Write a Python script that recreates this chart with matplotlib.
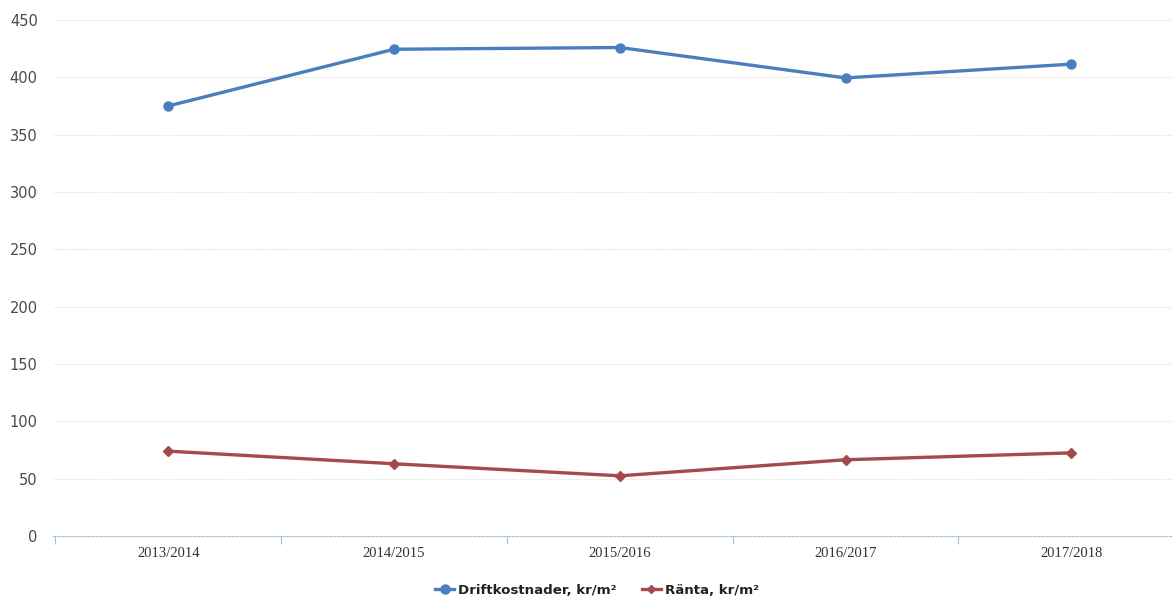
import matplotlib
matplotlib.use("Agg")
import matplotlib.pyplot as plt
from matplotlib.lines import Line2D

categories = ["2013/2014", "2014/2015", "2015/2016", "2016/2017", "2017/2018"]
drift = [375, 424.5, 426, 399.5, 411.5]
ranta = [74, 63, 52.5, 66.5, 72.5]
yticks = [0, 50, 100, 150, 200, 250, 300, 350, 400, 450]

blue = "#4a7ebf"
red = "#a44a4c"

fig = plt.figure(figsize=(11.73, 5.98), dpi=100)
ax = fig.add_axes([53/1173, 62/598, (1173-53)/1173, 516/598])

x = list(range(len(categories)))
ax.plot(x, drift, color=blue, lw=2.4, marker="o", ms=6.5, zorder=3)
ax.plot(x, ranta, color=red, lw=2.4, marker="D", ms=5, zorder=3)

ax.set_ylim(0, 450)
ax.set_xlim(-0.51, 4.45)
ax.set_yticks(yticks)
ax.set_yticklabels([str(v) for v in yticks], fontsize=10.5, color="#4a4a4a")
for v in yticks[1:]:
    ax.axhline(v, color="#d8d8d8", lw=0.8, ls=(0, (1, 1.5)), zorder=1)

ax.set_xticks(x)
ax.set_xticklabels(categories, fontsize=10.5, color="#333333", family="Liberation Serif")
ax.set_xticks([i - 0.5 for i in range(len(categories))], minor=True)
ax.tick_params(axis="x", which="major", length=0, pad=8)
ax.tick_params(axis="x", which="minor", length=6, color="#9fc3dd", width=0.8, direction="out")
ax.tick_params(axis="y", length=0, pad=11)

for s in ["left", "right", "top"]:
    ax.spines[s].set_visible(False)
ax.spines["bottom"].set_color("#9fc3dd")
ax.spines["bottom"].set_linestyle((0, (2, 1.5)))
ax.spines["bottom"].set_linewidth(0.8)

handles = [
    Line2D([0], [0], color=blue, lw=2.4, marker="o", ms=6.5),
    Line2D([0], [0], color=red, lw=2.4, marker="D", ms=4),
]
fig.legend(handles, ["Driftkostnader, kr/m²", "Ränta, kr/m²"], loc="center",
           bbox_to_anchor=(597/1173, 1 - 590/598), ncol=2, frameon=False,
           prop={"weight": "bold", "size": 9.6}, handlelength=1.4,
           handletextpad=0.3, columnspacing=1.9, labelcolor="#222222")

fig.savefig("out.png", dpi=100)
